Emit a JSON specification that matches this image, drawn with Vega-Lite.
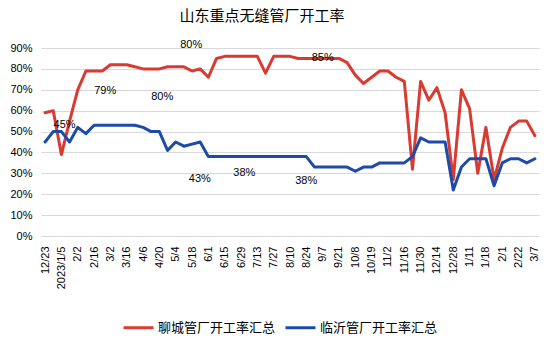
{
  "$schema": "https://vega.github.io/schema/vega-lite/v6.json",
  "width": 498,
  "height": 188,
  "autosize": "none",
  "padding": {"left": 41, "top": 48, "right": 16, "bottom": 115},
  "background": "white",
  "title": {
    "text": "山东重点无缝管厂开工率",
    "font": "Noto Sans CJK SC",
    "fontSize": 15,
    "fontWeight": "normal",
    "color": "#000000",
    "anchor": "middle",
    "frame": "group",
    "dx": -28,
    "offset": 15
  },
  "datasets": {
    "rates": [
      {"date": "12/23", "聊城管厂开工率汇总": 59, "临沂管厂开工率汇总": 45},
      {"date": "12/29", "聊城管厂开工率汇总": 60, "临沂管厂开工率汇总": 50},
      {"date": "2023/1/5", "聊城管厂开工率汇总": 39, "临沂管厂开工率汇总": 50},
      {"date": "1/12", "聊城管厂开工率汇总": 55, "临沂管厂开工率汇总": 45},
      {"date": "2/2", "聊城管厂开工率汇总": 70, "临沂管厂开工率汇总": 52},
      {"date": "2/9", "聊城管厂开工率汇总": 79, "临沂管厂开工率汇总": 49},
      {"date": "2/16", "聊城管厂开工率汇总": 79, "临沂管厂开工率汇总": 53},
      {"date": "2/23", "聊城管厂开工率汇总": 79, "临沂管厂开工率汇总": 53},
      {"date": "3/2", "聊城管厂开工率汇总": 82, "临沂管厂开工率汇总": 53},
      {"date": "3/9", "聊城管厂开工率汇总": 82, "临沂管厂开工率汇总": 53},
      {"date": "3/16", "聊城管厂开工率汇总": 82, "临沂管厂开工率汇总": 53},
      {"date": "3/30", "聊城管厂开工率汇总": 81, "临沂管厂开工率汇总": 53},
      {"date": "4/6", "聊城管厂开工率汇总": 80, "临沂管厂开工率汇总": 52},
      {"date": "4/13", "聊城管厂开工率汇总": 80, "临沂管厂开工率汇总": 50},
      {"date": "4/20", "聊城管厂开工率汇总": 80, "临沂管厂开工率汇总": 50},
      {"date": "4/27", "聊城管厂开工率汇总": 81, "临沂管厂开工率汇总": 41},
      {"date": "5/4", "聊城管厂开工率汇总": 81, "临沂管厂开工率汇总": 45},
      {"date": "5/11", "聊城管厂开工率汇总": 81, "临沂管厂开工率汇总": 43},
      {"date": "5/18", "聊城管厂开工率汇总": 79, "临沂管厂开工率汇总": 44},
      {"date": "5/25", "聊城管厂开工率汇总": 80, "临沂管厂开工率汇总": 45},
      {"date": "6/1", "聊城管厂开工率汇总": 76, "临沂管厂开工率汇总": 38},
      {"date": "6/8", "聊城管厂开工率汇总": 85, "临沂管厂开工率汇总": 38},
      {"date": "6/15", "聊城管厂开工率汇总": 86, "临沂管厂开工率汇总": 38},
      {"date": "6/21", "聊城管厂开工率汇总": 86, "临沂管厂开工率汇总": 38},
      {"date": "6/29", "聊城管厂开工率汇总": 86, "临沂管厂开工率汇总": 38},
      {"date": "7/6", "聊城管厂开工率汇总": 86, "临沂管厂开工率汇总": 38},
      {"date": "7/13", "聊城管厂开工率汇总": 86, "临沂管厂开工率汇总": 38},
      {"date": "7/20", "聊城管厂开工率汇总": 78, "临沂管厂开工率汇总": 38},
      {"date": "7/27", "聊城管厂开工率汇总": 86, "临沂管厂开工率汇总": 38},
      {"date": "8/3", "聊城管厂开工率汇总": 86, "临沂管厂开工率汇总": 38},
      {"date": "8/10", "聊城管厂开工率汇总": 86, "临沂管厂开工率汇总": 38},
      {"date": "8/17", "聊城管厂开工率汇总": 85, "临沂管厂开工率汇总": 38},
      {"date": "8/24", "聊城管厂开工率汇总": 85, "临沂管厂开工率汇总": 38},
      {"date": "8/31", "聊城管厂开工率汇总": 85, "临沂管厂开工率汇总": 33},
      {"date": "9/7", "聊城管厂开工率汇总": 85, "临沂管厂开工率汇总": 33},
      {"date": "9/14", "聊城管厂开工率汇总": 85, "临沂管厂开工率汇总": 33},
      {"date": "9/21", "聊城管厂开工率汇总": 85, "临沂管厂开工率汇总": 33},
      {"date": "9/28", "聊城管厂开工率汇总": 83, "临沂管厂开工率汇总": 33},
      {"date": "10/8", "聊城管厂开工率汇总": 77, "临沂管厂开工率汇总": 31},
      {"date": "10/12", "聊城管厂开工率汇总": 73, "临沂管厂开工率汇总": 33},
      {"date": "10/19", "聊城管厂开工率汇总": 76, "临沂管厂开工率汇总": 33},
      {"date": "10/26", "聊城管厂开工率汇总": 79, "临沂管厂开工率汇总": 35},
      {"date": "11/2", "聊城管厂开工率汇总": 79, "临沂管厂开工率汇总": 35},
      {"date": "11/9", "聊城管厂开工率汇总": 76, "临沂管厂开工率汇总": 35},
      {"date": "11/16", "聊城管厂开工率汇总": 74, "临沂管厂开工率汇总": 35},
      {"date": "11/23", "聊城管厂开工率汇总": 32, "临沂管厂开工率汇总": 38},
      {"date": "11/30", "聊城管厂开工率汇总": 74, "临沂管厂开工率汇总": 47},
      {"date": "12/7", "聊城管厂开工率汇总": 65, "临沂管厂开工率汇总": 45},
      {"date": "12/14", "聊城管厂开工率汇总": 71, "临沂管厂开工率汇总": 45},
      {"date": "12/21", "聊城管厂开工率汇总": 59, "临沂管厂开工率汇总": 45},
      {"date": "12/28", "聊城管厂开工率汇总": 27, "临沂管厂开工率汇总": 22},
      {"date": "1/4", "聊城管厂开工率汇总": 70, "临沂管厂开工率汇总": 33},
      {"date": "1/11", "聊城管厂开工率汇总": 61, "临沂管厂开工率汇总": 37},
      {"date": "1/16", "聊城管厂开工率汇总": 30, "临沂管厂开工率汇总": 37},
      {"date": "1/18", "聊城管厂开工率汇总": 52, "临沂管厂开工率汇总": 37},
      {"date": "1/25", "聊城管厂开工率汇总": 27, "临沂管厂开工率汇总": 24},
      {"date": "2/1", "聊城管厂开工率汇总": 42, "临沂管厂开工率汇总": 35},
      {"date": "2/8", "聊城管厂开工率汇总": 52, "临沂管厂开工率汇总": 37},
      {"date": "2/22", "聊城管厂开工率汇总": 55, "临沂管厂开工率汇总": 37},
      {"date": "2/29", "聊城管厂开工率汇总": 55, "临沂管厂开工率汇总": 35},
      {"date": "3/7", "聊城管厂开工率汇总": 48, "临沂管厂开工率汇总": 37}
    ],
    "labels": [
      {"date": "1/12", "value": 45, "text": "45%"},
      {"date": "2/23", "value": 79, "text": "79%"},
      {"date": "4/13", "value": 80, "text": "80%"},
      {"date": "5/25", "value": 80, "text": "80%"},
      {"date": "9/7", "value": 85, "text": "85%"},
      {"date": "5/11", "value": 43, "text": "43%"},
      {"date": "7/13", "value": 38, "text": "38%"},
      {"date": "8/17", "value": 38, "text": "38%"}
    ]
  },
  "encoding": {
    "x": {
      "field": "date",
      "type": "ordinal",
      "sort": null,
      "scale": {
        "type": "point",
        "padding": 0.5,
        "domain": ["12/23","12/29","2023/1/5","1/12","2/2","2/9","2/16","2/23","3/2","3/9","3/16","3/30","4/6","4/13","4/20","4/27","5/4","5/11","5/18","5/25","6/1","6/8","6/15","6/21","6/29","7/6","7/13","7/20","7/27","8/3","8/10","8/17","8/24","8/31","9/7","9/14","9/21","9/28","10/8","10/12","10/19","10/26","11/2","11/9","11/16","11/23","11/30","12/7","12/14","12/21","12/28","1/4","1/11","1/16","1/18","1/25","2/1","2/8","2/22","2/29","3/7"]
      },
      "axis": {
        "title": null,
        "values": ["12/23","2023/1/5","2/2","2/16","3/2","3/16","4/6","4/20","5/4","5/18","6/1","6/15","6/29","7/13","7/27","8/10","8/24","9/7","9/21","10/8","10/19","11/2","11/16","11/30","12/14","12/28","1/11","1/18","2/1","2/22","3/7"],
        "labelAngle": -90,
        "labelFont": "Liberation Sans",
        "labelFontSize": 11,
        "labelColor": "#000000",
        "labelPadding": 10,
        "labelOverlap": false,
        "ticks": false,
        "domain": false,
        "grid": false
      }
    },
    "y": {
      "type": "quantitative",
      "scale": {"domain": [0, 90], "nice": false},
      "axis": {
        "title": null,
        "values": [0, 10, 20, 30, 40, 50, 60, 70, 80, 90],
        "labelExpr": "datum.value + '%'",
        "labelFont": "Liberation Sans",
        "labelFontSize": 11,
        "labelColor": "#000000",
        "labelPadding": 9,
        "ticks": false,
        "domain": false,
        "grid": true,
        "gridColor": "#D9D9D9",
        "gridWidth": 1
      }
    }
  },
  "layer": [
    {
      "data": {"name": "rates"},
      "transform": [
        {"fold": ["聊城管厂开工率汇总", "临沂管厂开工率汇总"], "as": ["series", "value"]}
      ],
      "mark": {"type": "line", "strokeWidth": 3, "strokeJoin": "round", "strokeCap": "round"},
      "encoding": {
        "y": {"field": "value", "type": "quantitative"},
        "color": {
          "field": "series",
          "type": "nominal",
          "scale": {
            "domain": ["聊城管厂开工率汇总", "临沂管厂开工率汇总"],
            "range": ["#D93A32", "#1C4BA8"]
          },
          "legend": {
            "title": null,
            "orient": "none",
            "direction": "horizontal",
            "legendX": 81,
            "legendY": 263,
            "padding": 0,
            "symbolType": "stroke",
            "symbolSize": 900,
            "symbolStrokeWidth": 3,
            "labelFont": "Noto Sans CJK SC",
            "labelFontSize": 13,
            "labelColor": "#000000",
            "labelOffset": 3,
            "columnPadding": 3,
            "labelLimit": 300
          }
        }
      }
    },
    {
      "data": {"name": "labels"},
      "transform": [{"filter": {"field": "date", "equal": "1/12"}}],
      "mark": {"type": "text", "font": "Liberation Sans", "fontSize": 11, "color": "#000000", "dx": -5, "dy": -17},
      "encoding": {"y": {"field": "value", "type": "quantitative"}, "text": {"field": "text"}}
    },
    {
      "data": {"name": "labels"},
      "transform": [{"filter": {"field": "date", "equal": "2/23"}}],
      "mark": {"type": "text", "font": "Liberation Sans", "fontSize": 11, "color": "#000000", "dx": 3, "dy": 20},
      "encoding": {"y": {"field": "value", "type": "quantitative"}, "text": {"field": "text"}}
    },
    {
      "data": {"name": "labels"},
      "transform": [{"filter": {"field": "date", "equal": "4/13"}}],
      "mark": {"type": "text", "font": "Liberation Sans", "fontSize": 11, "color": "#000000", "dx": 11, "dy": 28},
      "encoding": {"y": {"field": "value", "type": "quantitative"}, "text": {"field": "text"}}
    },
    {
      "data": {"name": "labels"},
      "transform": [{"filter": {"field": "date", "equal": "5/25"}}],
      "mark": {"type": "text", "font": "Liberation Sans", "fontSize": 11, "color": "#000000", "dx": -9, "dy": -24},
      "encoding": {"y": {"field": "value", "type": "quantitative"}, "text": {"field": "text"}}
    },
    {
      "data": {"name": "labels"},
      "transform": [{"filter": {"field": "date", "equal": "9/7"}}],
      "mark": {"type": "text", "font": "Liberation Sans", "fontSize": 11, "color": "#000000", "dx": 0, "dy": 0},
      "encoding": {"y": {"field": "value", "type": "quantitative"}, "text": {"field": "text"}}
    },
    {
      "data": {"name": "labels"},
      "transform": [{"filter": {"field": "date", "equal": "5/11"}}],
      "mark": {"type": "text", "font": "Liberation Sans", "fontSize": 11, "color": "#000000", "dx": 16, "dy": 33},
      "encoding": {"y": {"field": "value", "type": "quantitative"}, "text": {"field": "text"}}
    },
    {
      "data": {"name": "labels"},
      "transform": [{"filter": {"field": "date", "equal": "7/13"}}],
      "mark": {"type": "text", "font": "Liberation Sans", "fontSize": 11, "color": "#000000", "dx": -13, "dy": 16},
      "encoding": {"y": {"field": "value", "type": "quantitative"}, "text": {"field": "text"}}
    },
    {
      "data": {"name": "labels"},
      "transform": [{"filter": {"field": "date", "equal": "8/17"}}],
      "mark": {"type": "text", "font": "Liberation Sans", "fontSize": 11, "color": "#000000", "dx": 8, "dy": 24},
      "encoding": {"y": {"field": "value", "type": "quantitative"}, "text": {"field": "text"}}
    }
  ],
  "config": {
    "view": {"stroke": null}
  }
}
